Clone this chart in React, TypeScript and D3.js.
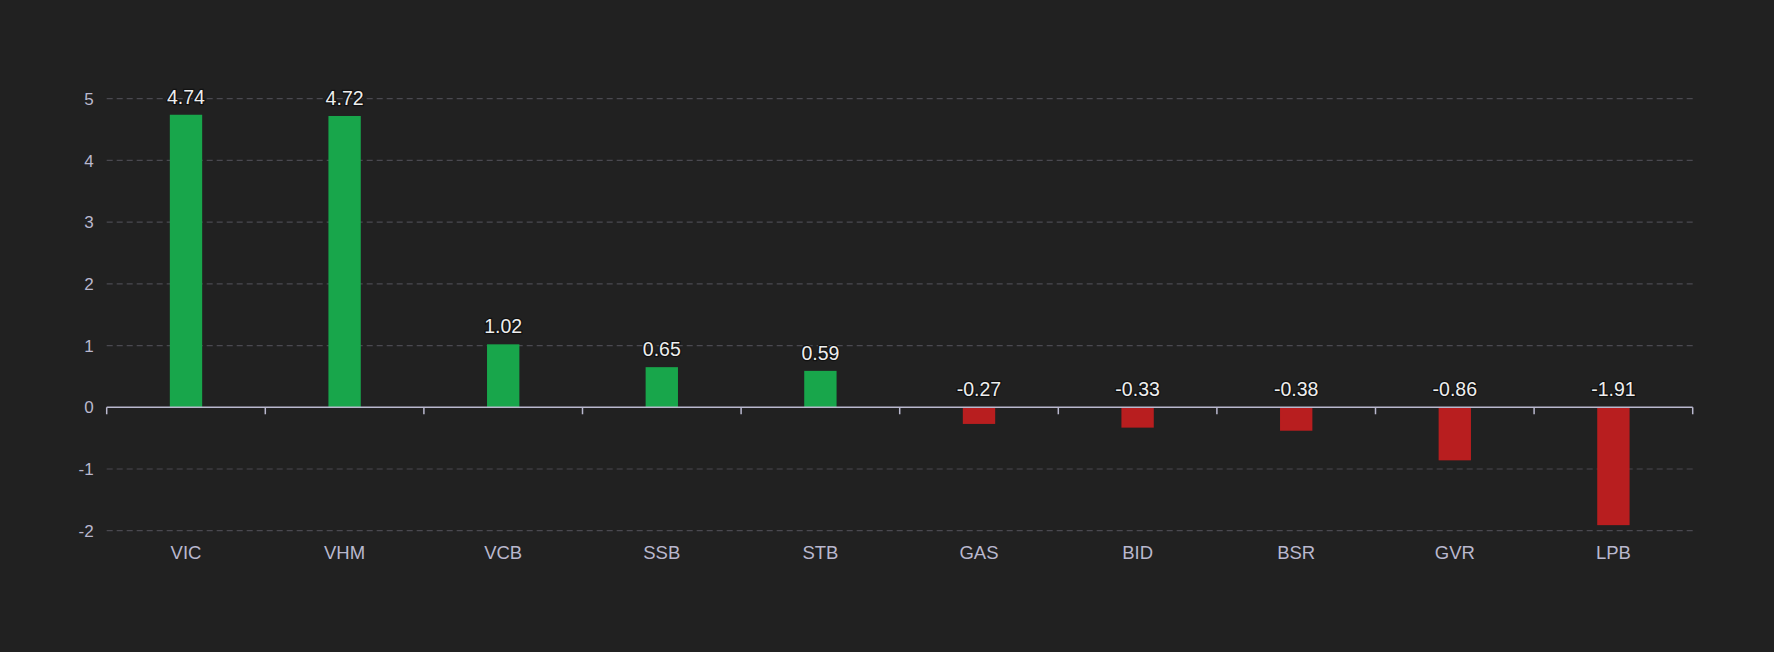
import { useEffect, useRef } from "react";
import * as d3 from "d3";

const tickers = ["VIC", "VHM", "VCB", "SSB", "STB", "GAS", "BID", "BSR", "GVR", "LPB"];
const impact = [4.74, 4.72, 1.02, 0.65, 0.59, -0.27, -0.33, -0.38, -0.86, -1.91];
const yTicks = [-2, -1, 0, 1, 2, 3, 4, 5];

const WIDTH = 1774;
const HEIGHT = 652;
const FONT = "'Liberation Sans', Arial, Helvetica, sans-serif";

export default function App() {
  const svgRef = useRef<SVGSVGElement>(null);

  useEffect(() => {
    document.body.style.margin = "0";
    document.body.style.background = "#212121";
    const svg = svgRef.current;
    if (!svg) return;

    const margin = { top: 98.7, right: WIDTH - 1692.7, bottom: HEIGHT - 530.7, left: 106.7 };
    const innerW = WIDTH - margin.left - margin.right;
    const innerH = HEIGHT - margin.top - margin.bottom;

    d3.select(svg).selectAll("*").remove();

    const x = d3.scaleBand<string>().domain(tickers).range([0, innerW]).padding(0);
    const y = d3.scaleLinear().domain([-2, 5]).range([innerH, 0]);

    const g = d3
      .select(svg)
      .append("g")
      .attr("transform", `translate(${margin.left},${margin.top})`);

    // Grid lines
    g.append("g")
      .selectAll("line")
      .data(yTicks.filter((d) => d !== 0))
      .join("line")
      .attr("x1", 0)
      .attr("x2", innerW)
      .attr("y1", (d) => y(d))
      .attr("y2", (d) => y(d))
      .attr("stroke", "#4a4950")
      .attr("stroke-width", 1.2)
      .attr("stroke-dasharray", "6,4");

    // Y labels
    g.append("g")
      .selectAll("text")
      .data(yTicks)
      .join("text")
      .attr("x", -13)
      .attr("y", (d) => y(d))
      .attr("dy", "0.36em")
      .attr("text-anchor", "end")
      .attr("fill", "#B9B8CE")
      .attr("font-size", "17px")
      .attr("font-family", FONT)
      .text((d) => String(d));

    // Bars
    const barW = x.bandwidth() * 0.204;
    g.append("g")
      .selectAll("rect")
      .data(impact)
      .join("rect")
      .attr("x", (_, i) => (x(tickers[i]) ?? 0) + x.bandwidth() / 2 - barW / 2)
      .attr("y", (d) => y(Math.max(0, d)))
      .attr("width", barW)
      .attr("height", (d) => Math.abs(y(d) - y(0)))
      .attr("fill", (d) => (d >= 0 ? "#18A64B" : "#B81E1F"));

    // Zero axis line + ticks
    const axis = g.append("g").attr("transform", `translate(0,${y(0)})`);
    axis
      .append("line")
      .attr("x1", 0)
      .attr("x2", innerW)
      .attr("stroke", "#B9B8CE")
      .attr("stroke-width", 1.5);
    axis
      .selectAll("line.tick")
      .data(d3.range(tickers.length + 1))
      .join("line")
      .attr("class", "tick")
      .attr("x1", (i) => i * x.bandwidth())
      .attr("x2", (i) => i * x.bandwidth())
      .attr("y1", 0)
      .attr("y2", 7)
      .attr("stroke", "#B9B8CE")
      .attr("stroke-width", 1.5);

    // Category labels
    g.append("g")
      .selectAll("text")
      .data(tickers)
      .join("text")
      .attr("x", (d) => (x(d) ?? 0) + x.bandwidth() / 2)
      .attr("y", innerH + 28)
      .attr("text-anchor", "middle")
      .attr("fill", "#B9B8CE")
      .attr("font-size", "18.5px")
      .attr("font-family", FONT)
      .text((d) => d);

    // Value labels
    g.append("g")
      .selectAll("text")
      .data(impact)
      .join("text")
      .attr("x", (_, i) => (x(tickers[i]) ?? 0) + x.bandwidth() / 2)
      .attr("y", (d) => y(Math.max(0, d)) - 11)
      .attr("text-anchor", "middle")
      .attr("fill", "#eeeeee")
      .attr("stroke", "#111")
      .attr("stroke-width", 2.5)
      .attr("paint-order", "stroke")
      .attr("font-size", "19.5px")
      .attr("font-family", FONT)
      .text((d) => d.toFixed(2));
  }, []);

  return (
    <div style={{ width: WIDTH, height: HEIGHT, background: "#212121" }}>
      <svg ref={svgRef} width={WIDTH} height={HEIGHT} style={{ display: "block" }} />
    </div>
  );
}
